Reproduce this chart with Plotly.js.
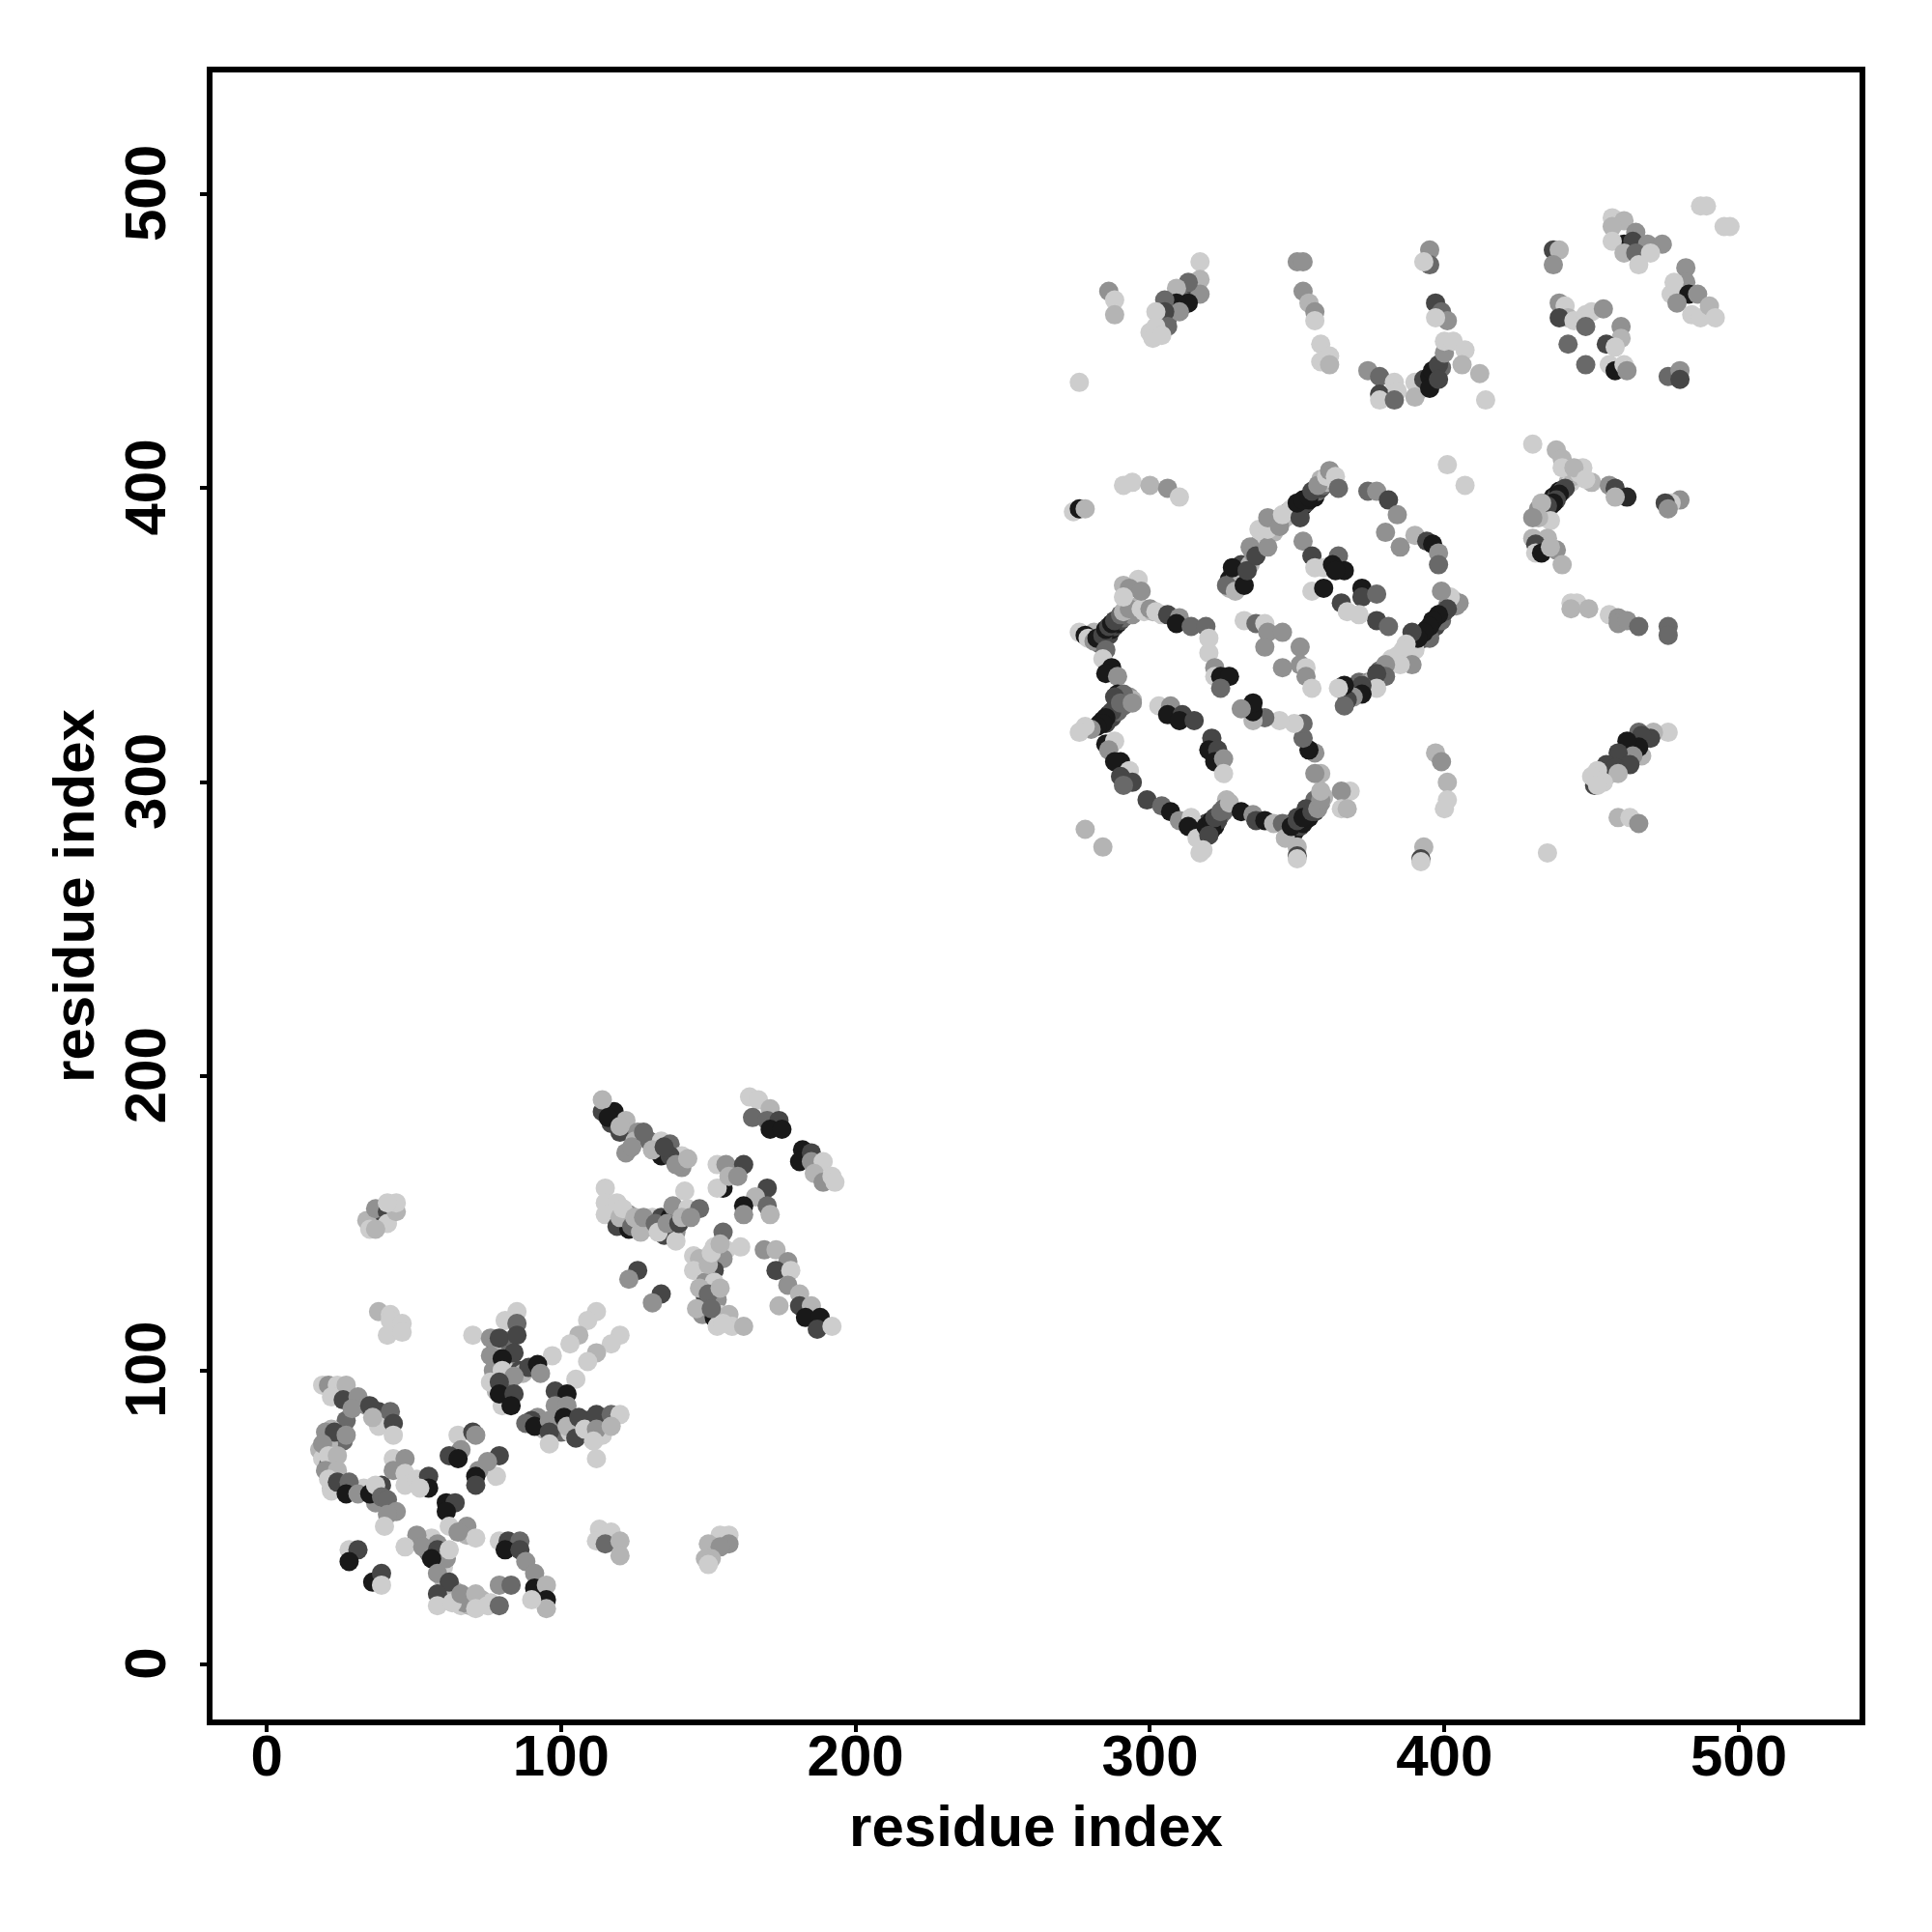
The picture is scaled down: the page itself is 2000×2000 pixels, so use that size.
<!DOCTYPE html>
<html><head><meta charset="utf-8">
<script src="https://cdn.plot.ly/plotly-3.0.1.min.js"></script>
<style>html,body{margin:0;padding:0;background:#fff}</style></head>
<body><div id="chart" style="width:2000px;height:2000px"></div>
<script>
const xTitle = "residue index", yTitle = "residue index";
const tickVals = [0,100,200,300,400,500];
// grey shades are 0-255 levels
const aX=[114,118,117,114,122,120,126,122,125,130,134,137,134,141,141,137,116,120,124,128,131,135,139,143];
const aY=[188,188,184,192,185,181,181,174,178,178,178,177,173,173,169,173,186,183,176,181,175,176,170,172];
const aG=[70,25,70,180,180,70,145,145,180,105,205,105,25,205,145,70,25,180,145,105,180,70,145,180];
const bX=[164,167,165,171,170,174,171,175,182,181,185,185,189,186,189,192,193];
const bY=[193,192,186,189,185,185,182,182,175,171,174,171,171,167,164,166,164];
const bG=[205,205,105,180,105,70,25,25,25,25,70,145,205,180,145,205,205];
const cX=[153,156,155,162,153,157,160,170,166,162,162,170,171];
const cY=[170,170,162,170,162,166,166,162,159,156,153,156,153];
const cG=[205,145,25,70,205,180,145,70,180,25,145,105,180];
const dX=[115,115,119,115,123,119,123,126,130,131,134,137,138,142,143,147,139,135,139,120,121,124,125,127,128,132,133,136,140,141,144];
const dY=[162,157,157,153,153,149,148,149,149,152,152,152,156,161,155,155,147,146,144,152,155,149,152,147,152,150,147,150,150,152,152];
const dG=[205,205,205,205,145,70,25,70,70,205,70,25,145,205,205,105,145,70,205,180,205,105,180,180,145,105,205,145,70,180,145];
const eX=[155,152,145,147,156,161,152,155,152,145,149,152,149,153,148,152,154,157,153,158,162,150,151,154,147,150,154,146,151,155];
const eY=[147,142,139,138,141,142,138,138,134,134,130,130,125,124,119,118,119,119,115,115,115,136,140,143,128,126,128,121,121,116];
const eG=[105,205,205,180,205,205,70,145,70,205,145,205,70,145,145,25,205,180,205,205,180,180,205,180,180,105,180,180,105,205];
const fX=[169,173,177,173,178,177,181,174,181,185,183,188,187,192];
const fY=[141,141,137,134,134,129,126,122,122,122,118,118,114,115];
const fG=[145,180,145,70,205,145,180,180,70,180,25,25,70,205];
const gX=[126,123,134,131];
const gY=[134,131,126,123];
const gG=[70,145,70,145];
const hX=[37,34,37,41,35,41,44,37,44,41];
const hY=[150,151,155,154,148,150,154,148,157,157];
const hG=[70,180,145,70,205,205,180,180,205,205];
const iX=[38,42,42,41,46,46];
const iY=[120,119,117,112,116,113];
const iG=[180,205,205,205,205,205];
const jX=[112,109,106,103,97,120,117,112,109,105];
const jY=[120,117,112,109,105,112,109,106,103,97];
const jG=[205,205,180,205,205,205,205,180,205,205];
const kX=[78,80,82,83,81,86,87,78,80,82,77,85,81,85,70,76,79,85,84,76,80,80,89,92,93,84,76,79,79,84,83];
const kY=[108,108,110,102,100,100,99,93,88,95,100,120,117,116,112,111,111,112,106,105,104,100,101,102,99,98,96,96,92,92,88];
const kG=[25,180,105,145,205,70,180,180,205,105,145,205,205,105,205,145,70,70,70,145,25,205,70,25,145,145,205,70,25,70,25];
const lX=[92,94,100,104,107,109,110,113,114,103,99,98,102,98,102,90,88,91,96,96,101,102,106,105,108,112,112,111,112,117,120,117,96];
const lY=[84,80,79,82,79,83,78,83,78,79,85,93,92,88,88,83,82,81,83,79,84,81,84,77,80,85,80,76,70,85,85,81,75];
const lG=[145,180,105,180,145,70,180,145,205,205,105,70,25,145,145,70,105,25,145,70,25,180,70,70,205,70,145,205,205,105,205,180,205];
const mX=[19,21,24,27,22,26,31,34,38,42,38,43,43,27,29];
const mY=[95,95,95,95,91,90,91,88,86,86,81,82,78,83,87];
const mG=[205,145,205,180,205,70,145,145,70,105,205,70,205,105,145];
const nX=[18,19,21,22,25,26,21,22,30,33,35,36,37,22,20,23,27,19,21,24,20,24,21,24,28,27,31,35,39,37,39,41,44,41,40];
const nY=[73,70,68,60,60,76,75,59,59,60,88,84,55,80,79,79,78,75,71,71,66,66,63,62,62,58,58,58,61,61,57,56,52,51,47];
const nG=[180,205,105,180,205,105,180,205,180,205,70,180,145,180,145,70,145,145,205,180,145,180,205,70,105,25,145,25,70,205,105,105,145,145,205];
const oX=[43,47,43,47,47,51,55,55,52];
const oY=[70,70,66,65,61,63,64,60,60];
const oG=[205,145,145,205,205,205,70,25,205];
const pX=[65,70,71,66,62,65,79,78,72,71,71,75];
const pY=[78,79,78,73,71,70,71,64,66,64,61,69];
const pG=[205,70,145,145,70,25,70,205,145,25,70,145];
const qX=[56,58,59,60,64,66,69,68,55,60,64,67,73,76,61,64,61,62,68,71,65,51,47,53,58,61,56,62,58,62,58,58,63,66,71,71,75,79,79];
const qY=[43,41,33,29,22,20,20,44,38,33,25,21,22,21,55,55,52,47,47,43,45,44,40,40,39,36,36,39,31,28,24,20,21,24,24,19,20,27,20];
const qG=[205,145,70,180,105,205,180,180,105,205,180,145,180,205,25,70,25,205,145,205,145,145,205,145,70,145,25,205,145,70,70,205,205,145,180,205,205,145,105];
const rX=[79,82,86,81,86,88,91,83,91,95,95,95,90];
const rY=[42,42,42,39,39,35,31,27,26,27,22,19,22];
const rG=[205,70,105,25,70,145,145,105,25,180,25,180,205];
const sX=[28,31,28,36,39,39];
const sY=[39,39,35,28,31,27];
const sG=[205,70,25,25,70,205];
const tX=[113,117,112,115,120,120];
const tY=[46,45,42,41,42,37];
const tG=[205,205,205,105,180,180];
const uX=[154,157,157,150,154,151,149,150];
const uY=[44,44,41,41,40,36,36,34];
const uG=[205,205,145,180,145,180,180,205];
const vX=[291,294,300,306,310,274,276,278];
const vY=[401,402,401,400,397,392,393,393];
const vG=[205,205,180,145,205,205,25,180];
const wX=[281,283,284,285,286,287,288,289,290,291,292,294,296,298,301,304,276,278,279,281,282,284,285,286,287,288,290,291,293,297,300,302,306,310,309,314,319,320,320,322,322,324,327,324,285,284,287,285,289,289];
const wY=[351,347,349,351,350,352,353,354,355,356,358,357,360,358,358,357,351,350,349,348,349,350,352,353,354,355,357,358,359,359,359,358,357,356,354,353,353,349,344,339,336,336,336,332,345,342,339,337,336,330];
const wG=[180,105,70,25,70,25,70,25,70,105,145,145,180,205,180,205,205,25,205,145,25,70,25,70,25,70,105,180,145,205,145,205,70,145,25,105,105,205,205,145,205,25,25,105,105,205,25,25,145,25];
const wwX=[283,284,285,286,287,288,289,290,291,292,293,294,291,288,287,285,284,282,280,278,276,290,294,285,288,286,290,288,293,290,294,291];
const wwY=[320,321,320,323,322,325,324,327,326,328,329,328,330,329,324,322,320,319,318,319,317,327,327,313,314,311,307,307,304,302,300,299];
const wwG=[25,25,70,25,70,25,105,70,105,145,145,180,105,70,70,25,25,25,145,205,205,105,145,25,205,145,25,25,205,70,70,105];
const yyX=[317,318,319,320,321,322,323,324,325,326,326,325,323,321,319,347,348,349,351,352,353,354,355,356,357,358,359,356,353,350,299,304,307,310,314,313,316,319,321,322,324,327,320,318,317,331,335,336,339,342,345,346,348,350,352,355,357,350,350,350];
const yyY=[283,284,283,285,286,285,287,289,290,292,294,291,288,284,286,283,286,283,285,286,289,288,291,290,292,293,295,294,291,288,294,292,290,287,288,285,281,285,287,288,290,293,282,277,276,290,289,287,287,286,286,281,285,287,288,290,291,278,275,274];
const yyG=[180,25,25,70,25,25,70,70,105,145,180,105,70,25,70,180,105,25,70,25,70,25,105,70,145,145,180,105,70,70,70,105,25,145,205,25,205,25,25,70,105,180,70,205,205,25,145,70,25,180,105,180,25,70,25,70,145,180,70,205];
const zzX=[358,358,358,356,356,354,352,352,349,344,339,335,335,335,331,368,365,365,367];
const zzY=[294,297,303,303,310,311,315,320,320,321,322,321,324,327,325,297,297,291,291];
const zzG=[145,180,180,145,145,25,105,105,205,205,105,180,25,25,145,205,145,205,180];
const inX=[303,307,306,311,310,315,321,320,323,322,325,325];
const inY=[326,326,323,323,321,321,315,311,311,307,308,303];
const inG=[205,145,25,70,25,70,70,25,70,25,145,205];
const midX=[332,336,339,340,345,339,351,345,351,353,353,355];
const midY=[355,354,354,351,351,346,346,339,340,339,336,332];
const midG=[205,105,205,145,145,145,145,145,145,205,145,205];
const upX=[327,327,329,330,331,331,334,335,337,338,342,344,346,347,349,351,352,353,354,355,356,357,358,359,360,362,361,358,326,328,329,332,333,334,336,340,337,340,340,344,345,348,351,350,352,354,355,357,360,361,363,364];
const upY=[369,366,371,369,374,368,374,378,381,383,385,389,390,392,393,393,394,395,396,398,397,399,400,401,402,403,405,403,367,373,365,367,372,380,377,380,386,386,390,387,391,393,390,395,396,397,399,401,404,406,404,400];
const upG=[25,180,105,145,70,180,180,145,105,205,180,145,180,145,70,25,25,70,25,70,25,105,70,105,180,205,205,180,105,25,180,25,70,145,70,145,205,205,145,145,205,205,70,25,25,25,70,145,205,145,205,105];
const innX=[352,355,356,359,364,362,366,363,355,359,365,367,372,372,377,371,377,381];
const innY=[382,377,373,373,377,374,372,372,365,366,361,358,366,363,364,357,355,353];
const innG=[145,70,205,205,105,25,25,25,205,25,70,205,25,70,105,205,70,105];
const ritX=[374,377,381,384,380,385,390,394,396,398,398];
const ritY=[399,399,396,391,385,380,384,382,381,378,374];
const ritG=[105,145,70,145,145,145,180,70,25,145,105];
const strX=[388,390,391,392,393,394,395,396,397,398,399,400,401,402,403,404,390,395,366,367,368,370,371,374,376,378,380,382,384,405,402,399,401,398,396,395,393,391,389,387,386,389,385,380,380,377,377,372,372,369,367,366,364,366];
const strY=[346,347,348,350,349,352,351,354,353,356,355,358,360,361,362,360,345,349,331,329,331,331,334,334,335,338,338,342,343,361,363,365,359,357,355,353,351,349,351,347,345,340,340,340,336,337,332,333,330,329,328,333,332,326];
const strG=[180,145,70,25,70,25,70,25,70,25,105,70,145,205,180,145,205,105,180,105,70,145,105,145,180,105,180,205,205,145,205,145,70,25,25,25,25,25,70,205,205,145,205,145,105,70,205,70,25,145,70,25,205,105];
const smaX=[401,407,397,399,401,401,400,393,392,392,278,284,296,291,293,297,291];
const smaY=[408,401,310,307,300,294,291,278,274,273,284,278,369,367,366,365,363];
const smaG=[205,205,180,145,180,205,205,180,70,205,180,180,205,180,145,145,205];
const nwX=[303,304,306,307,308,311,311,312,314,315,317,317,317,313,309,313,309,305,310,305,302,306,302,300,301,304];
const nwY=[454,457,458,461,462,462,465,466,468,469,477,471,466,470,468,463,463,464,460,460,460,455,455,453,451,452];
const nwG=[205,180,105,70,70,25,70,25,105,70,205,180,145,105,180,25,25,105,145,70,205,105,205,205,205,205];
const nnX=[286,288,288,276,350,352,352,354,356,356,358,361,358,361];
const nnY=[467,464,459,436,477,477,467,463,460,457,449,445,443,442];
const nnG=[145,205,180,205,145,145,145,180,145,205,205,205,205,180];
const ncX=[395,395,393,397,399,401,397,374,378,378,378,383,384,383];
const ncY=[481,476,477,463,460,457,458,440,438,432,430,436,433,430];
const ncG=[145,105,205,70,105,145,205,145,105,70,205,205,205,105];
const vcX=[391,392,393,394,395,396,397,399,390,390,393,395,396,398,395,398,400,400,403,407,406,412,414];
const vcY=[433,435,435,437,437,439,439,441,436,431,437,438,440,442,434,437,446,450,450,447,442,439,430];
const vcG=[180,145,105,70,25,70,25,105,205,180,70,25,25,70,25,70,145,205,205,205,180,180,205];
const neX=[487,489,495,497,457,461,465,457,461,464,457,469,474,461,465,470,466];
const neY=[496,496,489,489,492,491,487,489,483,484,484,483,483,480,480,480,476];
const neG=[205,205,205,205,205,180,145,180,25,70,205,145,145,180,105,205,205];
const ngX=[437,439,437,439,441,442,439,444,448,450,454,448,442,448];
const ngY=[481,481,476,463,462,458,458,457,459,460,461,455,449,442];
const ngG=[70,180,145,145,205,180,70,205,205,205,145,105,105,105];
const ohX=[460,460,455,458,456,458,461,462,476,480,480];
const ohY=[455,451,449,448,442,440,442,440,438,440,437];
const ohG=[145,180,70,205,205,25,205,145,105,145,70];
const otX=[482,482,477,478,483,479,486,484,487,490,492];
const otY=[475,470,466,470,466,463,466,459,458,462,458];
const otG=[145,145,205,205,25,145,145,205,205,180,205];
const q1X=[432,434,435,436,437,438,439,440,442,443,444,446,430,438,440,440,447,444,450,448,456,458,462,458,441,439,438,437,435,433,436,432,430];
const q1Y=[393,392,395,394,397,397,399,399,402,402,404,405,415,413,410,407,407,407,402,403,401,400,397,397,400,398,396,395,394,395,389,390,390];
const q1G=[145,70,25,70,25,70,25,105,180,205,180,205,205,180,180,205,205,180,180,205,145,70,40,180,70,25,70,25,70,180,205,180,145];
const q2X=[430,435,431,431,433,438,440,436,443,445,443,449,456,459,459,462,466,476,476,480,477,475,476];
const q2Y=[383,383,381,378,378,379,374,380,361,361,359,359,357,356,354,355,353,353,350,396,395,395,393];
const q2G=[180,180,70,205,25,145,180,180,205,205,180,180,205,145,145,145,105,105,105,145,205,70,145];
const q3X=[453,455,456,457,460,461,463,465,468,476,471,466,470,467,467,466,462,464,459,463,455,458,459,452,454,451,450,452,459,463,466,435];
const q3Y=[303,302,304,306,306,309,312,311,315,317,317,317,315,316,309,312,314,309,310,306,306,305,303,304,300,299,302,299,288,288,286,276];
const q3G=[205,180,145,105,180,70,25,105,70,205,180,105,70,70,180,25,25,145,70,70,70,70,180,205,205,70,205,205,180,205,145,205];

const groups = [
 [aX,aY,aG],[bX,bY,bG],[cX,cY,cG],[dX,dY,dG],[eX,eY,eG],[fX,fY,fG],[gX,gY,gG],
 [hX,hY,hG],[iX,iY,iG],[jX,jY,jG],[kX,kY,kG],[lX,lY,lG],[mX,mY,mG],[nX,nY,nG],
 [oX,oY,oG],[pX,pY,pG],[qX,qY,qG],[rX,rY,rG],[sX,sY,sG],[tX,tY,tG],[uX,uY,uG],
 [vX,vY,vG],[wX,wY,wG],[wwX,wwY,wwG],[yyX,yyY,yyG],[zzX,zzY,zzG],[inX,inY,inG],
 [midX,midY,midG],[upX,upY,upG],[innX,innY,innG],[ritX,ritY,ritG],[strX,strY,strG],
 [smaX,smaY,smaG],[nwX,nwY,nwG],[nnX,nnY,nnG],[ncX,ncY,ncG],[vcX,vcY,vcG],[neX,neY,neG],
 [ngX,ngY,ngG],[ohX,ohY,ohG],[otX,otY,otG],[q1X,q1Y,q1G],[q2X,q2Y,q2G],[q3X,q3Y,q3G]
];
const traces = groups.map(([x,y,g]) => ({
  type:'scatter', mode:'markers', x, y, hoverinfo:'skip', showlegend:false, cliponaxis:true,
  marker:{size:20, line:{width:0}, color:g.map(v=>`rgb(${v},${v},${v})`)}
}));
const fnt = {family:'"Liberation Sans", Arial, sans-serif', size:60, color:'#000', weight:700};
const axisBase = {
  showgrid:false, zeroline:false, showline:true, mirror:true, linecolor:'#000', linewidth:6,
  ticks:'outside', ticklen:7, tickwidth:4, tickcolor:'#000',
  tickmode:'array', tickvals:tickVals, ticktext:tickVals.map(String), tickfont:fnt
};
const layout = {
  width:2000, height:2000, paper_bgcolor:'#fff', plot_bgcolor:'#fff', showlegend:false,
  margin:{l:220,r:75,t:75,b:220,pad:0},
  xaxis:Object.assign({}, axisBase, {range:[-18.4,541], ticklabelstandoff:-27, title:{text:xTitle, font:fnt, standoff:21}}),
  yaxis:Object.assign({}, axisBase, {range:[-18.7,541.4], tickangle:-90, ticklabelstandoff:12, ticklabelshift:8, title:{text:yTitle, font:fnt, standoff:2}})
};
Plotly.newPlot('chart', traces, layout, {displayModeBar:false, staticPlot:true});
</script></body></html>
